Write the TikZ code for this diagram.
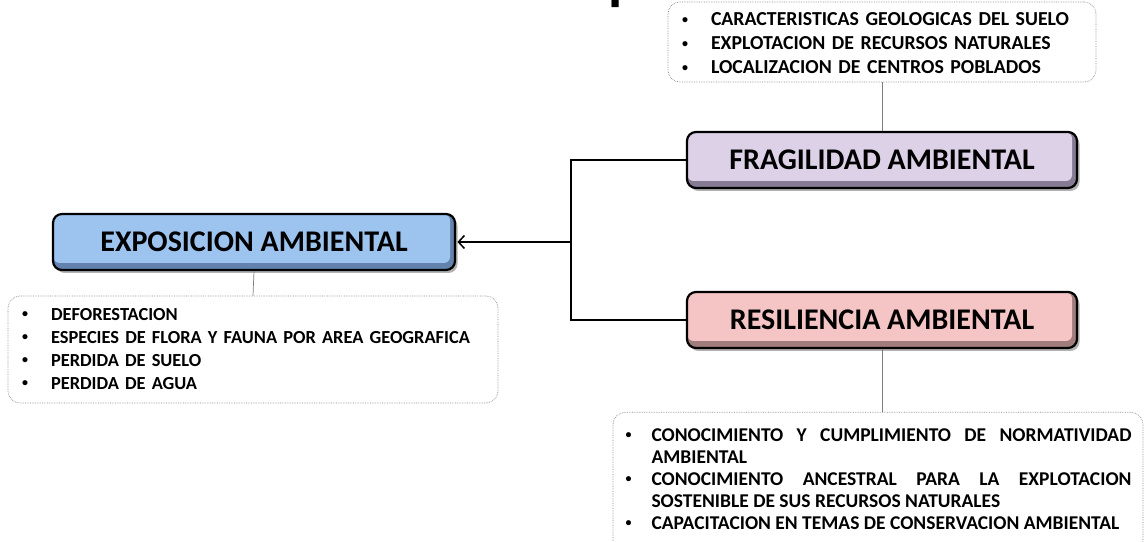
\documentclass[tikz,border=0pt]{standalone}
\usepackage{fontspec}
\setmainfont{Carlito}
\usetikzlibrary{arrows.meta,shadows}
\hyphenpenalty=10000
\exhyphenpenalty=10000
\definecolor{fragmain}{HTML}{DDD1E8}
\definecolor{fragbev}{HTML}{857B93}
\definecolor{resimain}{HTML}{F5C4C4}
\definecolor{resibev}{HTML}{A07C7C}
\definecolor{expomain}{HTML}{9DC3EF}
\definecolor{expobev}{HTML}{6383AC}
\definecolor{thinline}{HTML}{7F7F7F}
\definecolor{dotline}{HTML}{8C8C8C}
\newcommand{\smallbul}{\raisebox{2.6pt}{\fontsize{12}{12}\selectfont\textbullet}}
\newcommand{\bitem}[2][30pt]{\par\hangindent=#1\hangafter=1\noindent\makebox[#1][l]{\hspace{1pt}\smallbul}#2}
\tikzset{
  mainbox/.style n args={3}{draw=black, line width=2.2pt, rounded corners=9pt,
    fill=#2, minimum width=#3, minimum height=56pt, inner sep=0pt,
    font=\fontsize{30}{34}\selectfont\bfseries,
    drop shadow={shadow xshift=2.5pt, shadow yshift=-3pt, opacity=0.3, fill=black},
    path picture={\fill[#1, rounded corners=6pt]
      ([shift={(0.5pt,-0.5pt)}]path picture bounding box.north west) rectangle
      ([shift={(-5pt,7pt)}]path picture bounding box.south east);}},
  listbox/.style={draw=dotline, densely dotted, line width=0.7pt, rounded corners=12pt,
    fill=white, inner ysep=0pt, align=left},
  conn/.style={draw=black, line width=1.6pt},
  thin/.style={draw=thinline, line width=0.7pt},
}
\begin{document}
\begin{tikzpicture}[x=1pt,y=1pt]
\useasboundingbox (0,0) rectangle (1146,541);
\clip (0,0) rectangle (1146,541);
\fill[white] (0,0) rectangle (1146,541);
% cut-off title fragment
\node[anchor=base west, inner sep=0pt, font=\fontsize{58}{62}\selectfont\bfseries] (ttl) at (608,542) {p};
% main boxes
\node[mainbox={fragmain}{fragbev}{390pt}] (frag) at (882,381) {FRAGILIDAD AMBIENTAL};
\node[mainbox={resimain}{resibev}{390pt}] (resi) at (882,221) {RESILIENCIA AMBIENTAL};
\node[mainbox={expomain}{expobev}{402pt}] (expo) at (254,299) {EXPOSICION AMBIENTAL};
% list boxes
\node[listbox, minimum width=428pt, minimum height=78pt, text width=402pt, inner xsep=13pt,
  font=\fontsize{19.8}{24}\selectfont\bfseries] (top) at (882,499)
  {\bitem{CARACTERISTICAS GEOLOGICAS DEL SUELO}\bitem{EXPLOTACION DE RECURSOS NATURALES}\bitem{LOCALIZACION DE CENTROS POBLADOS}\par\kern8pt};
\node[listbox, minimum width=490pt, minimum height=107pt, text width=464pt, inner xsep=13pt,
  font=\fontsize{18.4}{23}\selectfont\bfseries] (expl) at (253,191.5)
  {\bitem{DEFORESTACION}\bitem{ESPECIES DE FLORA Y FAUNA POR AREA GEOGRAFICA}\bitem{PERDIDA DE SUELO}\bitem{PERDIDA DE AGUA}\par\kern12pt};
\node[listbox, anchor=north, minimum width=530pt, text width=507pt, inner xsep=11.5pt, inner ysep=7pt,
  align=justify, font=\fontsize{19.5}{22}\selectfont\bfseries] (resl) at (878,129)
  {\bitem[27pt]{CONOCIMIENTO Y CUMPLIMIENTO DE NORMATIVIDAD\linebreak AMBIENTAL}\bitem[27pt]{CONOCIMIENTO ANCESTRAL PARA LA EXPLOTACION\linebreak SOSTENIBLE DE SUS RECURSOS NATURALES}\bitem[27pt]{CAPACITACION EN TEMAS DE CONSERVACION AMBIENTAL}\par\kern16pt};
% thin connectors
\draw[thin] (top.south) -- (frag.north);
\draw[thin] (expo.south) -- (expl.north);
\draw[thin] (resi.south) -- (resi.south |- resl.north);
% main connectors
\coordinate (j) at (571,299);
\draw[conn] (frag.west) -| (j) |- (resi.west);
\draw[conn, -{Straight Barb[length=6pt,width=13pt,line width=1.5pt]}, shorten >=1.3pt] (j) -- (expo.east);
\end{tikzpicture}
\end{document}
